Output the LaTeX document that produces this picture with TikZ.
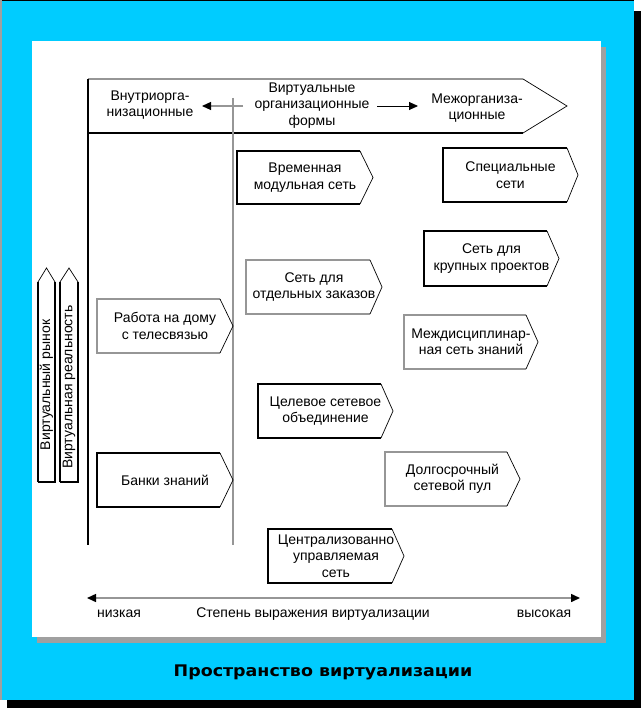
\documentclass[tikz,border=0pt]{standalone}
\usepackage{fontspec}
\setmainfont{Liberation Sans}
\newfontfamily\titlefont{DejaVu Sans}
\usetikzlibrary{arrows.meta}
\definecolor{cyanbg}{RGB}{0,204,255}
\definecolor{shadowgray}{RGB}{160,160,160}
\definecolor{edgegray}{RGB}{150,150,150}
\tikzset{
  lbl/.style={align=center, inner sep=1pt, font=\fontsize{14}{16.5}\selectfont},
  stedge/.style={line width=1.1pt, line join=miter},
  diagline/.style={line width=0.7pt, black},
  arrtip/.style={-{Triangle[length=9pt,width=8pt,color=black,fill=black]}},
  bothtips/.style={{Triangle[length=9pt,width=8pt,color=black,fill=black]}-{Triangle[length=9pt,width=8pt,color=black,fill=black]}},
}
% name, x-left, y-top, x-straight-end, x-tip, y-bottom, edge colour, text
\newcommand{\pentbox}[8]{%
  \draw[stedge,#7] (#4,#3) -- (#2,#3) -- (#2,#6) -- (#4,#6);
  \draw[diagline] (#4,#3) -- (#5,{(#3+#6)/2}) -- (#4,#6);
  \node[lbl] (#1) at ({(#2+#5)/2},{(#3+#6)/2}) {#8};
}
\begin{document}
\begin{tikzpicture}[x=1pt,y=-1pt]
\useasboundingbox (0,0) rectangle (641,708);
% frame
\fill[black] (7,11) rectangle (641,708);
\fill[cyanbg] (0,0) rectangle (634,700);
\draw[black, line width=1.5pt] (0,0.75) -- (634,0.75);
\draw[shadowgray, line width=1.5pt] (0.75,0) -- (0.75,700);
\fill[shadowgray] (37,47) rectangle (606,643);
\fill[white] (32,41) rectangle (601,637);

% banner
\draw[stedge, edgegray] (88,79) -- (523,79);
\draw[stedge] (88,79) -- (88,133) -- (523,133);
\draw[diagline] (523,79) -- (567,106) -- (523,133);
\node[lbl] (intra) at (150,105) {Внутриорга-\\низационные};
\node[lbl] (virt) at (312,105.5) {Виртуальные\\организационные\\формы};
\node[lbl] (inter) at (477,108) {Межорганиза-\\ционные};
\coordinate (la) at (243,106);
\coordinate (lb) at (202,106);
\coordinate (ra) at (377,106);
\coordinate (rb) at (418,106);
\draw[edgegray, line width=1.2pt, arrtip] (la) -- (lb);
\draw[black, line width=0.9pt, arrtip] (ra) -- (rb);

% axes lines
\coordinate (vt) at (233,98);
\coordinate (vb) at (233,545);
\draw[edgegray, line width=1.5pt] (vt) -- (vb);
\coordinate (lt) at (88,133);
\coordinate (lbt) at (88,545);
\draw[black, line width=1.1pt] (lt) -- (lbt);

% vertical arrows
\draw[stedge] (38,482) -- (38,282) (55,282) -- (55,482) -- (38,482);
\draw[diagline] (38,282) -- (46.5,268) -- (55,282);
\node[lbl, rotate=90] (vmarket) at (46.5,385) {Виртуальный рынок};
\draw[stedge] (60,482) -- (60,282) (78,282) -- (78,482) -- (60,482);
\draw[diagline] (60,282) -- (69,268) -- (78,282);
\node[lbl, rotate=90] (vreal) at (69,387) {Виртуальная реальность};

% boxes
\pentbox{tempmod}{237}{151}{360}{373}{204}{black}{Временная\\модульная сеть}
\pentbox{special}{443}{148}{567}{578}{202}{black}{Специальные\\сети}
\pentbox{bigproj}{424}{231}{547}{559}{286}{black}{Сеть для\\крупных проектов}
\pentbox{orders}{246}{260}{370}{382}{314}{edgegray}{Сеть для\\отдельных заказов}
\pentbox{interdisc}{404}{315}{526}{538}{369}{edgegray}{Междисциплинар-\\ная сеть знаний}
\pentbox{target}{258}{384}{381}{393}{438}{black}{Целевое сетевое\\объединение}
\pentbox{longpool}{385}{452}{507}{520}{506}{edgegray}{Долгосрочный\\сетевой пул}
\pentbox{central}{268}{529}{392}{404}{583}{black}{Централизованно\\управляемая\\сеть}
\pentbox{homework}{97}{299}{220}{233}{353}{edgegray}{Работа на дому\\с телесвязью}
\pentbox{knowbank}{97}{453}{220}{233}{507}{black}{Банки знаний}

% bottom axis
\coordinate (axl) at (87,598);
\coordinate (axr) at (580,598);
\draw[edgegray, line width=1.5pt, bothtips] (axl) -- (axr);
\node[lbl] (low) at (119,614) {низкая};
\node[lbl] (degree) at (313,614) {Степень выражения виртуализации};
\node[lbl] (high) at (544,614) {высокая};

\node[inner sep=0pt, xscale=1.09, font=\titlefont\bfseries\fontsize{16}{18}\selectfont] (title) at (323,672) {Пространство виртуализации};
\end{tikzpicture}
\end{document}
